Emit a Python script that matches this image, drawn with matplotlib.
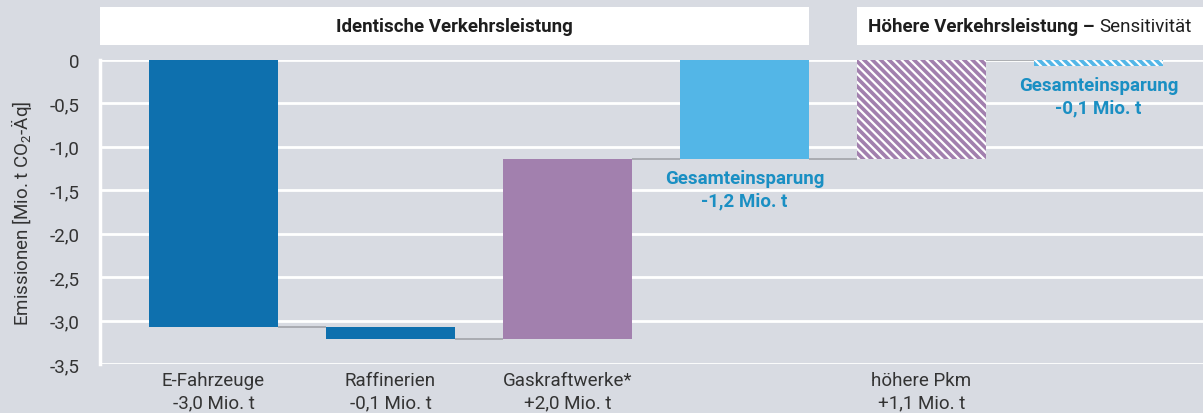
import matplotlib
matplotlib.use("Agg")
import matplotlib.pyplot as plt
import matplotlib.transforms as mtransforms
from matplotlib.patches import Rectangle

plt.rcParams['font.family'] = ['Roboto', 'DejaVu Sans']
plt.rcParams['mathtext.fontset'] = 'custom'
plt.rcParams['mathtext.rm'] = 'Roboto'
plt.rcParams['mathtext.it'] = 'Roboto'
plt.rcParams['hatch.linewidth'] = 1.6

# ---- data ----
categories = ['E-Fahrzeuge', 'Raffinerien', 'Gaskraftwerke*', 'Gesamt', 'höhere Pkm', 'Gesamt Sensitivität']
bar_low = [-3.07, -3.21, -3.21, -1.14, -1.14, -0.07]
bar_high = [0.0, -3.07, -1.14, 0.0, 0.0, 0.0]
connector_levels = [-3.07, -3.21, -1.14, -1.14, 0.0]
tick_positions = [0, 1, 2, 4]
tick_labels = ['E-Fahrzeuge\n-3,0 Mio. t', 'Raffinerien\n-0,1 Mio. t',
               'Gaskraftwerke*\n+2,0 Mio. t', 'höhere Pkm\n+1,1 Mio. t']
total_labels = {3: 'Gesamteinsparung\n-1,2 Mio. t', 5: 'Gesamteinsparung\n-0,1 Mio. t'}
yticks = [0, -0.5, -1.0, -1.5, -2.0, -2.5, -3.0, -3.5]
ytick_labels = ['0', '-0,5', '-1,0', '-1,5', '-2,0', '-2,5', '-3,0', '-3,5']

bar_colors = ['#0e70ae', '#0e70ae', '#a280ae', '#53b6e7', '#a280ae', '#53b6e7']
bar_hatches = [None, None, None, None, '\\\\\\\\', '\\\\\\\\']

BG = '#d8dbe2'
W, H = 1203, 414
fig = plt.figure(figsize=(W / 100, H / 100), dpi=100, facecolor=BG)
ax = fig.add_axes([100 / W, (H - 365) / H, (W - 100) / W, 304 / H])
ax.set_facecolor(BG)

bw = 0.73
for i in range(len(categories)):
    kw = dict(color=bar_colors[i], zorder=3, linewidth=0)
    if bar_hatches[i]:
        kw.update(hatch=bar_hatches[i], edgecolor='white')
    ax.bar(i, bar_high[i] - bar_low[i], bottom=bar_low[i], width=bw, **kw)

for i, lvl in enumerate(connector_levels):
    ax.plot([i + bw / 2, i + 1 - bw / 2], [lvl, lvl], color='#a6a8ad', lw=1.3, zorder=2,
            solid_capstyle='butt')

for i, txt in total_labels.items():
    ax.annotate(txt, xy=(i, bar_low[i]), xytext=(0, -7), textcoords='offset points',
                ha='center', va='top', fontsize=13.5, fontweight='bold', color='#1a8fc3',
                linespacing=1.3, zorder=4)

ax.set_xlim(-0.641, 5.59)
ax.set_ylim(-3.5, 0)
ax.set_yticks(yticks)
ax.set_yticklabels(ytick_labels)
ax.set_xticks(tick_positions)
ax.set_xticklabels(tick_labels, linespacing=1.35)
ax.tick_params(axis='both', length=0, labelsize=13.5, labelcolor='#333333')
ax.tick_params(axis='y', pad=15)
ax.tick_params(axis='x', pad=5)
ax.yaxis.grid(True, color='white', lw=2.0, zorder=0)
ax.set_axisbelow(True)
for s in ['top', 'right', 'bottom']:
    ax.spines[s].set_visible(False)
ax.spines['left'].set_color('white')
ax.spines['left'].set_linewidth(2.5)

ax.set_ylabel('Emissionen [Mio. t CO$_2$-Äq]', fontsize=13.5, color='#333333', labelpad=11)

# header boxes
trans = mtransforms.blended_transform_factory(ax.transData, fig.transFigure)
y0 = (H - 45.5) / H
hh = 37.5 / H
x_left = -0.641
b1 = Rectangle((x_left, y0), 3 + bw / 2 - x_left, hh, transform=trans, facecolor='white',
               edgecolor='none', clip_on=False)
b2 = Rectangle((4 - bw / 2, y0), 5.59 - (4 - bw / 2), hh, transform=trans, facecolor='white',
               edgecolor='none', clip_on=False)
fig.add_artist(b1)
fig.add_artist(b2)
yc = y0 + hh / 2
fig.text((x_left + 3 + bw / 2) / 2, yc, 'Identische Verkehrsleistung', transform=trans,
         ha='center', va='center', fontsize=13.5, fontweight='bold', color='#1e1e1e')

t1 = fig.text(0, 0, 'Höhere Verkehrsleistung – ', ha='left', va='center', fontsize=13.5,
              fontweight='bold', color='#1e1e1e')
t2 = fig.text(0, 0, 'Sensitivität', ha='left', va='center', fontsize=13.5, color='#1e1e1e')
fig.canvas.draw()
r = fig.canvas.get_renderer()
w1 = t1.get_window_extent(r).width
w2 = t2.get_window_extent(r).width
cx = (ax.transData.transform((4 - bw / 2, 0))[0] + W) / 2
start = cx - (w1 + w2) / 2
t1.set_position((start / W, yc))
t2.set_position(((start + w1) / W, yc))

fig.savefig('out.png', dpi=100, facecolor=BG)
